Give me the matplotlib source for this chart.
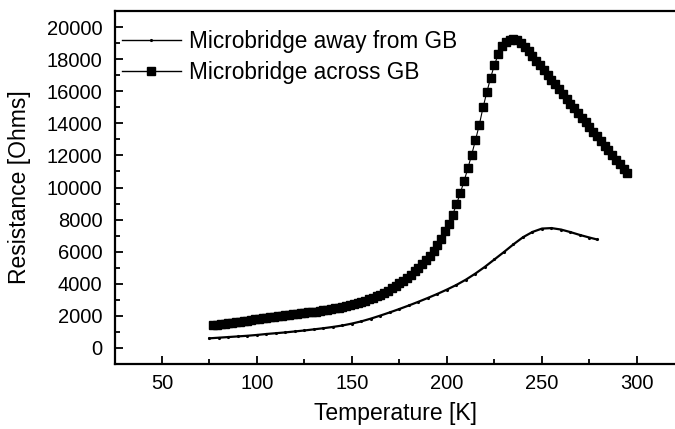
import matplotlib
matplotlib.use("Agg")
import matplotlib.pyplot as plt
from matplotlib.ticker import MultipleLocator

plt.rcParams['font.family'] = ['Liberation Sans', 'DejaVu Sans']

# Microbridge across GB (square markers)
temp_across = [77, 79, 81, 83, 85, 87, 89, 91, 93, 95, 97, 99, 101, 103, 105, 107, 109,
               111, 113, 115, 117, 119, 121, 123, 125, 127, 129, 131, 133, 135, 137, 139,
               141, 143, 145, 147, 149, 151, 153, 155, 157, 159, 161, 163, 165, 167, 169,
               171, 173, 175, 177, 179, 181, 183, 185, 187, 189, 191, 193, 195, 197, 199,
               201, 203, 205, 207, 209, 211, 213, 215, 217, 219, 221, 223, 225, 227, 229,
               231, 233, 235, 237, 239, 241, 243, 245, 247, 249, 251, 253, 255, 257, 259,
               261, 263, 265, 267, 269, 271, 273, 275, 277, 279, 281, 283, 285, 287, 289,
               291, 293, 295]
res_across = [1420, 1450, 1480, 1510, 1540, 1570, 1600, 1630, 1660, 1690, 1720, 1780, 1810,
              1850, 1880, 1910, 1940, 1970, 2000, 2030, 2060, 2090, 2120, 2150, 2180, 2210,
              2240, 2270, 2300, 2340, 2380, 2420, 2460, 2500, 2550, 2610, 2670, 2730, 2800,
              2870, 2950, 3030, 3120, 3220, 3330, 3450, 3580, 3720, 3870, 4030, 4200, 4380,
              4570, 4770, 4980, 5210, 5460, 5740, 6060, 6420, 6820, 7260, 7740, 8300, 8950,
              9650, 10400, 11200, 12050, 12950, 13900, 15000, 15950, 16850, 17650, 18300,
              18800, 19080, 19200, 19230, 19170, 19000, 18760, 18480, 18200, 17910, 17620,
              17330, 17040, 16720, 16420, 16110, 15800, 15510, 15220, 14930, 14640, 14350,
              14060, 13770, 13480, 13190, 12900, 12610, 12320, 12030, 11740, 11450, 11160,
              10880]

# Microbridge away from GB (line with small dots)
temp_away = [75, 80, 85, 90, 95, 100, 105, 110, 115, 120, 125, 130, 135, 140, 145, 150,
             155, 160, 165, 170, 175, 180, 185, 190, 195, 200, 205, 210, 215, 220, 225,
             230, 235, 240, 245, 250, 255, 260, 265, 270, 275, 279]
res_away = [600, 640, 680, 720, 760, 810, 870, 920, 970, 1030, 1090, 1160, 1230, 1310,
            1400, 1520, 1660, 1830, 2020, 2220, 2430, 2650, 2880, 3120, 3370, 3640, 3930,
            4260, 4640, 5060, 5520, 5980, 6460, 6900, 7230, 7440, 7470, 7380, 7220, 7040,
            6880, 6760]

labels = ["Microbridge away from GB", "Microbridge across GB"]

fig = plt.figure(figsize=(6.75, 4.29), dpi=100)
ax = fig.add_axes([115/675, 1 - 364/429, 1 - 115/675, (364 - 11)/429])

ax.plot(temp_away, res_away, color='black', lw=1.6, marker='.', markersize=2.5,
        label=labels[0])
ax.plot(temp_across, res_across, color='black', lw=0.8, marker='s', markersize=5.3,
        label=labels[1])

ax.set_xlim(25.3, 320)
ax.set_ylim(-1000, 21000)
ax.xaxis.set_major_locator(MultipleLocator(50))
ax.xaxis.set_minor_locator(MultipleLocator(25))
ax.yaxis.set_major_locator(MultipleLocator(2000))
ax.yaxis.set_minor_locator(MultipleLocator(1000))
ax.tick_params(which='both', direction='in', width=1.3, labelsize=14.5)
ax.tick_params(which='major', length=6)
ax.tick_params(which='minor', length=3.5)
ax.tick_params(axis='x', pad=7)
ax.tick_params(axis='y', pad=9)
for s in ['left', 'bottom', 'top']:
    ax.spines[s].set_linewidth(1.6)
ax.spines['right'].set_visible(False)

ax.set_xlabel("Temperature [K]", fontsize=16.5, labelpad=7)
ax.set_ylabel("Resistance [Ohms]", fontsize=16.5, labelpad=11)

leg = ax.legend(loc='upper left', bbox_to_anchor=(7/560, 1 - 19/353), frameon=False,
                fontsize=16.3, handlelength=2.6, handletextpad=0.35, borderpad=0,
                borderaxespad=0, labelspacing=0.35)
for h in leg.get_lines():
    h.set_linewidth(1.0)

fig.savefig("out.png", dpi=100)
